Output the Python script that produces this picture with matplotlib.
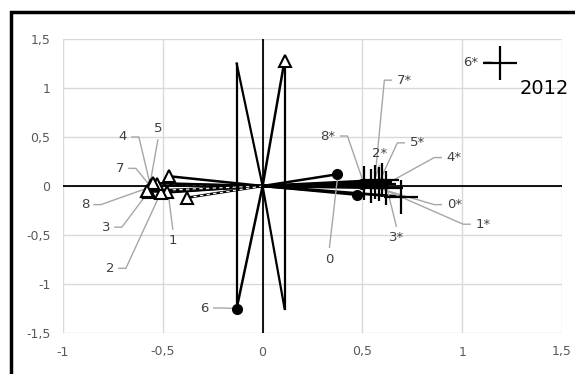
import matplotlib
matplotlib.use("Agg")
import matplotlib.pyplot as plt
from matplotlib.patches import Rectangle

# ---- data ----
tri_x = [-0.48, -0.51, -0.57, -0.56, -0.53, -0.55, -0.58, -0.47, -0.38, 0.11]
tri_y = [-0.06, -0.07, -0.06, 0.01, 0.02, 0.03, -0.05, 0.10, -0.12, 1.28]
tri_dashed = [True, False, True, False, True, False, True, False, True, False]

dot_x = [-0.13, 0.375, 0.475, 0.50]
dot_y = [-1.25, 0.12, -0.09, 0.02]

plus_x = [0.51, 0.545, 0.565, 0.585, 0.60, 0.62, 0.695, 1.19]
plus_y = [0.03, 0.00, 0.04, 0.02, 0.06, -0.02, -0.11, 1.255]
plus_vec = [True, True, True, True, True, True, True, False]

# extra vectors / bars (from origin, without markers)
vec_x = [-0.13, 0.11]
vec_y = [1.25, -1.25]
bar_x = [-0.13, 0.11]
bar_y0 = [1.25, 1.28]
bar_y1 = [-1.25, -1.25]

# point labels: text, label position, anchor point
lab_text = ["4", "5", "7", "8", "3", "2", "1", "6", "0",
            "8*", "7*", "2*", "5*", "4*", "0*", "1*", "3*", "6*"]
lab_x = [-0.70, -0.525, -0.715, -0.89, -0.785, -0.765, -0.45, -0.29, 0.335,
         0.325, 0.71, 0.585, 0.775, 0.96, 0.96, 1.105, 0.67, 1.045]
lab_y = [0.50, 0.59, 0.18, -0.19, -0.42, -0.84, -0.56, -1.245, -0.745,
         0.51, 1.08, 0.33, 0.44, 0.29, -0.19, -0.39, -0.53, 1.265]
anc_x = [-0.565, -0.565, -0.575, -0.575, -0.565, -0.515, -0.475, -0.11, 0.375,
         0.51, 0.56, 0.555, 0.575, 0.61, 0.61, 0.635, 0.625, 1.16]
anc_y = [0.03, 0.01, 0.03, -0.02, -0.04, -0.09, -0.04, -1.25, 0.08,
         0.01, 0.01, 0.03, 0.00, 0.01, -0.04, -0.06, -0.04, 1.255]
lab_side = ["L", "B", "L", "L", "L", "L", "T", "L", "T",
            "L", "R", "B", "R", "R", "R", "R", "T", "L"]

xticks = [-1, -0.5, 0, 0.5, 1, 1.5]
xticklabels = ["-1", "-0,5", "0", "0,5", "1", "1,5"]
yticks = [-1.5, -1, -0.5, 0, 0.5, 1, 1.5]
yticklabels = ["-1,5", "-1", "-0,5", "0", "0,5", "1", "1,5"]
year_text = "2012"

# ---- figure ----
fig = plt.figure(figsize=(5.75, 3.74), dpi=100)
ax = fig.add_axes([63/575, 1-333/374, (562-63)/575, (333-39)/374])

ax.set_xlim(-1, 1.5)
ax.set_ylim(-1.5, 1.5)
ax.set_xticks(xticks)
ax.set_xticklabels(xticklabels)
ax.set_yticks(yticks)
ax.set_yticklabels(yticklabels)
ax.tick_params(length=0, labelsize=9, labelcolor="#595959", pad=9)
for s in ax.spines.values():
    s.set_visible(False)
ax.grid(True, color="#d9d9d9", lw=1)
ax.set_axisbelow(True)

# axes lines
ax.plot([0, 0], [-1.5, 1.5], color="black", lw=1.3, zorder=2)
ax.plot([-1, 1.5], [0, 0], color="black", lw=1.3, zorder=2)

# vectors to triangles
for x, y, d in zip(tri_x, tri_y, tri_dashed):
    ax.plot([0, x], [0, y], color="black", lw=1.8, zorder=3)
    if d:
        ax.plot([0, x], [0, y], color="white", lw=0.8, ls=(0, (3, 3)), zorder=3)
ax.plot(tri_x, tri_y, ls="none", marker="^", ms=9, mfc="white", mec="black",
        mew=1.5, zorder=5)

# vectors to dots
for x, y in zip(dot_x, dot_y):
    ax.plot([0, x], [0, y], color="black", lw=1.8, zorder=3)
ax.plot(dot_x, dot_y, ls="none", marker="o", ms=7, color="black", zorder=5)

# vectors to plus markers
for x, y, v in zip(plus_x, plus_y, plus_vec):
    if v:
        ax.plot([0, x], [0, y], color="black", lw=2.0, zorder=3)
ax.plot(plus_x, plus_y, ls="none", marker="+", ms=24, mew=1.6, color="black", zorder=5)

# extra vectors and bars
for x, y in zip(vec_x, vec_y):
    ax.plot([0, x], [0, y], color="black", lw=1.6, zorder=3)
for x, y0, y1 in zip(bar_x, bar_y0, bar_y1):
    ax.plot([x, x], [y0, y1], color="black", lw=1.6, zorder=3)

# labels with leader lines
for t, lx, ly, axx, ayy, side in zip(lab_text, lab_x, lab_y, anc_x, anc_y, lab_side):
    ax.text(lx, ly, t, fontsize=9.5, color="#404040", ha="center", va="center", zorder=6)
    if side == "L":
        sx, sy = lx + 0.045 + 0.02 * (len(t) - 1), ly
        ax.plot([sx, sx + 0.035, axx], [sy, sy, ayy], color="#a6a6a6", lw=1, zorder=4)
    elif side == "R":
        sx, sy = lx - 0.045 - 0.02 * (len(t) - 1), ly
        ax.plot([sx, sx - 0.035, axx], [sy, sy, ayy], color="#a6a6a6", lw=1, zorder=4)
    elif side == "T":
        sx, sy = lx, ly + 0.12
        ax.plot([sx, axx], [sy, ayy], color="#a6a6a6", lw=1, zorder=4)
    else:
        sx, sy = lx, ly - 0.12
        ax.plot([sx, axx], [sy, ayy], color="#a6a6a6", lw=1, zorder=4)

ax.text(1.41, 1.0, year_text, fontsize=14, color="black", ha="center", va="center", zorder=6)

# outer frame
fig.patches.append(Rectangle((11/575, -0.2), 1.5, 1 - 12/374 + 0.2,
                             transform=fig.transFigure, fill=False,
                             edgecolor="black", lw=2.5))

fig.savefig("out.png", dpi=100)
